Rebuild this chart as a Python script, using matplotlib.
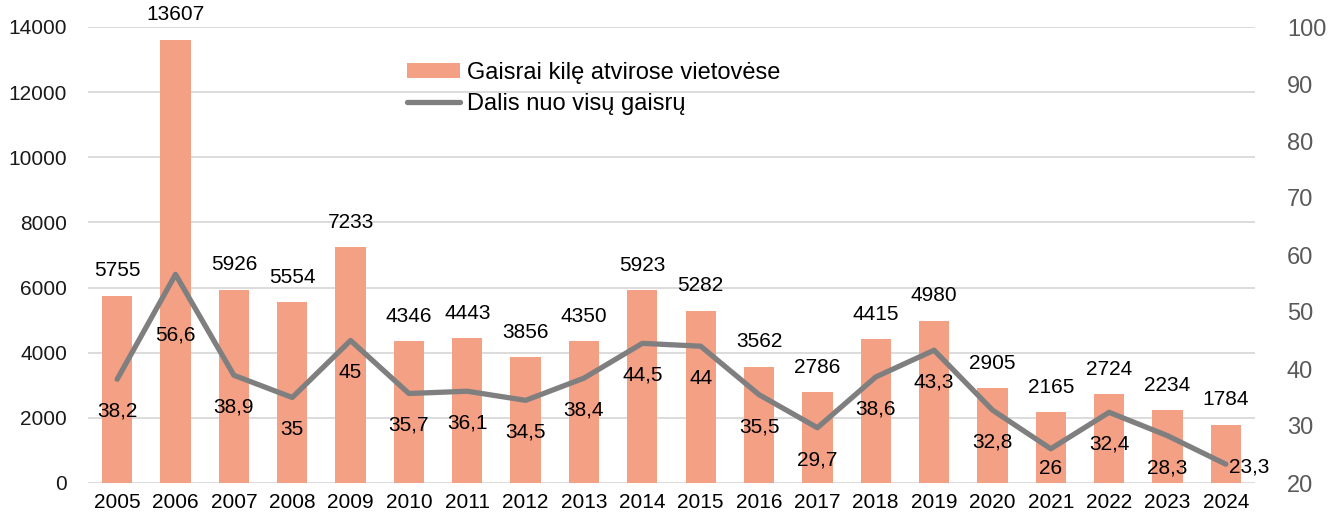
import matplotlib
matplotlib.use("Agg")
import matplotlib.pyplot as plt

plt.rcParams["font.family"] = ["Liberation Sans", "DejaVu Sans"]

years = ["2005", "2006", "2007", "2008", "2009", "2010", "2011", "2012", "2013", "2014",
         "2015", "2016", "2017", "2018", "2019", "2020", "2021", "2022", "2023", "2024"]
fires_open = [5755, 13607, 5926, 5554, 7233, 4346, 4443, 3856, 4350, 5923,
              5282, 3562, 2786, 4415, 4980, 2905, 2165, 2724, 2234, 1784]
share_pct = [38.2, 56.6, 38.9, 35, 45, 35.7, 36.1, 34.5, 38.4, 44.5,
             44, 35.5, 29.7, 38.6, 43.3, 32.8, 26, 32.4, 28.3, 23.3]

bar_label = "Gaisrai kilę atvirose vietovėse"
line_label = "Dalis nuo visų gaisrų"

BAR_COLOR = "#F4A085"
LINE_COLOR = "#7F7F7F"
GRID_COLOR = "#D9D9D9"
FS = 15

fig = plt.figure(figsize=(13.28, 5.23), dpi=100)
ax = fig.add_axes([88 / 1328, 40 / 523, (1255 - 88) / 1328, (483 - 27) / 523])
ax2 = ax.twinx()

x = list(range(len(years)))
bars = ax.bar(x, fires_open, width=0.52, color=BAR_COLOR, label=bar_label, zorder=2)
ax.set_xlim(-0.5, len(years) - 0.5)
ax.set_ylim(0, 14000)
ax.set_yticks(range(0, 14001, 2000))
ax.yaxis.grid(True, color=GRID_COLOR, linewidth=1.3, zorder=0)
ax.set_axisbelow(True)
ax.set_xticks(x)
ax.set_xticklabels(years, fontsize=FS, color="black")
ax.tick_params(axis="y", labelsize=FS, labelcolor="#1a1a1a", length=0, pad=15)
ax.tick_params(axis="x", length=0, pad=7)
for s in ax.spines.values():
    s.set_visible(False)

for xi, v in zip(x, fires_open):
    ax.annotate(f"{v}", (xi, v), xytext=(0, 18), textcoords="offset points",
                ha="center", va="center", fontsize=FS)

line, = ax2.plot(x, share_pct, color=LINE_COLOR, linewidth=3.8,
                 solid_capstyle="round", solid_joinstyle="round", label=line_label, zorder=3)
ax2.set_ylim(20, 100)
ax2.set_yticks(range(20, 101, 10))
ax2.tick_params(axis="y", labelsize=17, labelcolor="#595959", length=0, pad=23)
for s in ax2.spines.values():
    s.set_visible(False)

for xi, v in zip(x, share_pct):
    txt = f"{v:g}".replace(".", ",")
    dx, dy, ha = 0, -23, "center"
    if years[xi] == "2006":
        dy = -44
    elif years[xi] == "2021":
        dy = -14
    elif years[xi] == "2024":
        dx, dy, ha = 2, -2, "left"
    ax2.annotate(txt, (xi, v), xytext=(dx, dy), textcoords="offset points",
                 ha=ha, va="center", fontsize=FS, zorder=4)

leg = ax.legend([bars, line], [bar_label, line_label], loc="upper left",
                bbox_to_anchor=(0.265, 0.945), frameon=False, fontsize=17,
                handlelength=2.25, handleheight=0.6, labelspacing=0.4,
                handletextpad=0.3, borderaxespad=0)
leg.set_zorder(5)

fig.savefig("out.png", dpi=100)
